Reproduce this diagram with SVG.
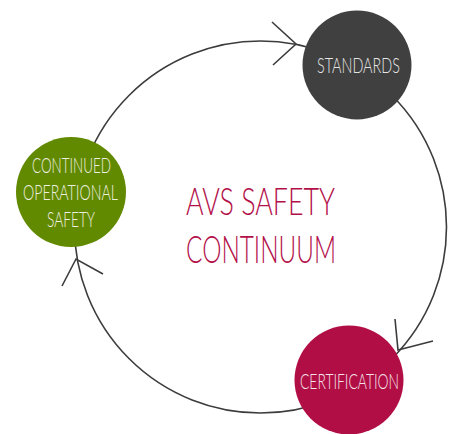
<svg xmlns="http://www.w3.org/2000/svg" width="450" height="434" viewBox="0 0 450 434">
<style>
.ring{fill:none;stroke:#3c3c3c;stroke-width:1.6}
.arrow{fill:none;stroke:#3c3c3c;stroke-width:1.6;stroke-linejoin:miter}
.lbl{font-family:Lato,"Open Sans","Liberation Sans",sans-serif;font-weight:300;font-size:21px;text-anchor:middle}
.title{font-family:Lato,"Open Sans","Liberation Sans",sans-serif;font-weight:300;font-size:37px;text-anchor:middle;fill:#b3104a}
</style>
<rect width="450" height="434" fill="#ffffff"/>
<g id="connectors">
<circle class="ring" cx="260.5" cy="227" r="186"/>
<polyline class="arrow" points="272,22 296,44 273,65"/>
<polyline class="arrow" points="395,319 398,350 433,341"/>
<polyline class="arrow" points="62,286 76,259 103,274"/>
</g>
<g id="standards">
<circle cx="357" cy="65" r="54.5" fill="#404040"/>
<text class="lbl" x="358.5" y="73" fill="#e6e6e6" textLength="83" lengthAdjust="spacingAndGlyphs">STANDARDS</text>
</g>
<g id="continued-operational-safety">
<circle cx="71" cy="192" r="55" fill="#628a00"/>
<text class="lbl" x="71.5" y="173" fill="#eef0e0" textLength="79" lengthAdjust="spacingAndGlyphs">CONTINUED</text>
<text class="lbl" x="70.5" y="200" fill="#eef0e0" textLength="95" lengthAdjust="spacingAndGlyphs">OPERATIONAL</text>
<text class="lbl" x="71" y="227" fill="#eef0e0" textLength="48" lengthAdjust="spacingAndGlyphs">SAFETY</text>
</g>
<g id="certification">
<circle cx="349" cy="380" r="54.5" fill="#b20e46"/>
<text class="lbl" x="349.5" y="389" fill="#f4e4ea" textLength="99" lengthAdjust="spacingAndGlyphs">CERTIFICATION</text>
</g>
<g id="title">
<text class="title" x="260.5" y="215" textLength="149" lengthAdjust="spacingAndGlyphs">AVS SAFETY</text>
<text class="title" x="261" y="263" textLength="150" lengthAdjust="spacingAndGlyphs">CONTINUUM</text>
</g>
</svg>
